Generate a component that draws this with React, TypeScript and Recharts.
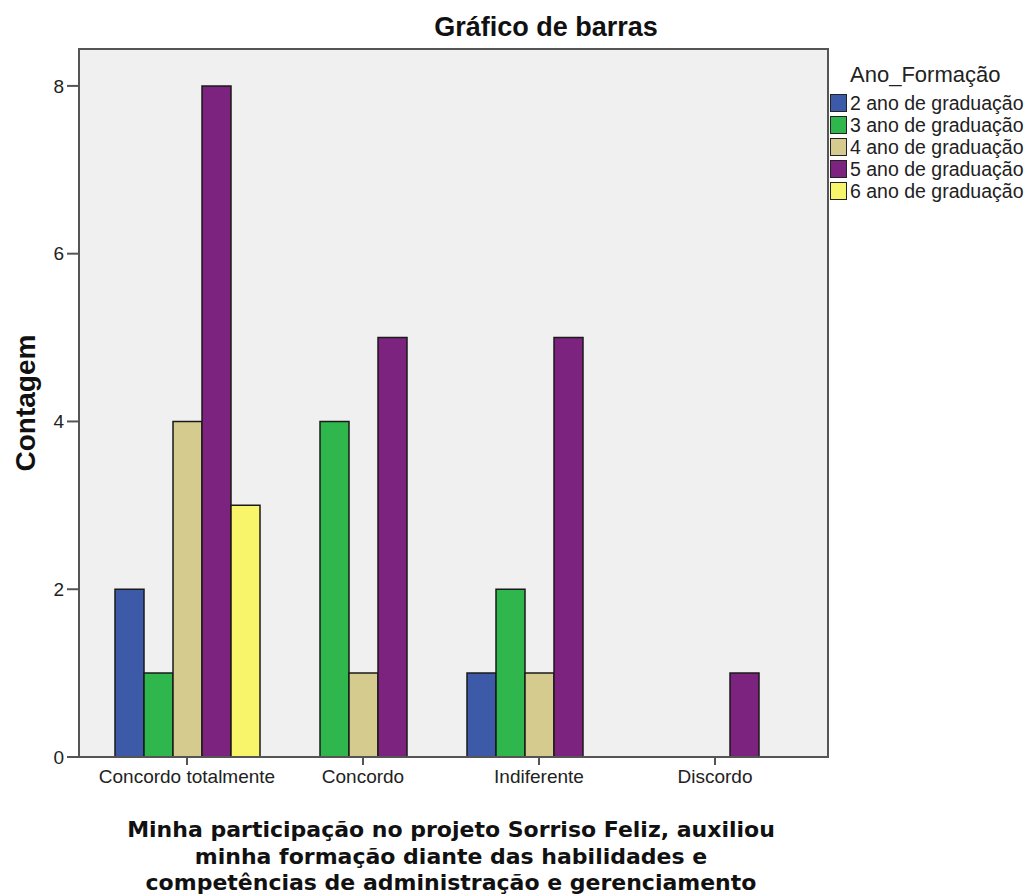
import { BarChart, Bar, XAxis, YAxis } from 'recharts'

if (typeof document !== 'undefined') document.body.style.margin = '0'

const categories = ['Concordo totalmente', 'Concordo', 'Indiferente', 'Discordo']
const ano2 = [2, 0, 1, 0]
const ano3 = [1, 4, 2, 0]
const ano4 = [4, 1, 1, 0]
const ano5 = [8, 5, 5, 1]
const ano6 = [3, 0, 0, 0]
const yTicks = [0, 2, 4, 6, 8]

const series = [
  { key: 'a2', name: '2 ano de graduação', color: '#3d5aa9', values: ano2 },
  { key: 'a3', name: '3 ano de graduação', color: '#2fb64c', values: ano3 },
  { key: 'a4', name: '4 ano de graduação', color: '#d5cb8e', values: ano4 },
  { key: 'a5', name: '5 ano de graduação', color: '#7c2380', values: ano5 },
  { key: 'a6', name: '6 ano de graduação', color: '#f8f56a', values: ano6 },
]

const data = categories.map((c, i) => {
  const row: Record<string, string | number> = { cat: c }
  series.forEach(s => { row[s.key] = s.values[i] })
  return row
})

const font = '"Liberation Sans", Arial, sans-serif'
const axisColor = '#555'

function LegendBox() {
  return (
    <div style={{ position: 'absolute', left: 830, top: 60, fontFamily: font, color: '#222' }}>
      <div style={{ fontSize: 22, marginLeft: 20, height: 32, lineHeight: '30px' }}>Ano_Formação</div>
      {series.map(s => (
        <div key={s.key} style={{ display: 'flex', alignItems: 'center', height: 22, fontSize: 19.5, whiteSpace: 'nowrap' }}>
          <span style={{ width: 15, height: 16, background: s.color, border: '1px solid #222', marginRight: 3, display: 'inline-block', flexShrink: 0 }} />
          {s.name}
        </div>
      ))}
    </div>
  )
}

export default function App() {
  return (
    <div style={{ position: 'relative', width: 1031, height: 896, background: '#fff', overflow: 'hidden' }}>
      <div style={{ position: 'absolute', left: 78, top: 48, width: 751, height: 710, boxSizing: 'border-box', background: '#f0f0f0', border: `2px solid ${axisColor}` }} />
      <div style={{ position: 'absolute', left: 0, width: 1092, top: 12, textAlign: 'center', fontFamily: font, fontWeight: 'bold', fontSize: 27, color: '#111' }}>
        Gráfico de barras
      </div>
      <div style={{ position: 'absolute', left: 26, top: 403, transform: 'translate(-50%, -50%) rotate(-90deg)', fontFamily: font, fontWeight: 'bold', fontSize: 28, color: '#111', whiteSpace: 'nowrap' }}>
        Contagem
      </div>
      <div style={{ position: 'absolute', left: 0, width: 902, top: 817, textAlign: 'center', fontFamily: '"DejaVu Sans", sans-serif', fontWeight: 'bold', fontSize: 22, lineHeight: '26.5px', color: '#111' }}>
        Minha participação no projeto Sorriso Feliz, auxiliou<br />
        minha formação diante das habilidades e<br />
        competências de administração e gerenciamento
      </div>
      <LegendBox />
      <BarChart
        width={1031}
        height={896}
        data={data}
        margin={{ top: 49, right: 203, bottom: 109, left: 0 }}
        barCategoryGap={16}
        barGap={0}
        style={{ position: 'absolute', left: 0, top: 0 }}
      >
        <XAxis
          dataKey="cat"
          padding={{ left: 20, right: 25 }}
          tick={{ fill: '#222', fontSize: 19, fontFamily: font }}
          tickSize={8}
          tickMargin={5}
          stroke={axisColor}
          strokeWidth={2}
          height={30}
        />
        <YAxis
          domain={[0, 8.44]}
          ticks={yTicks}
          allowDataOverflow
          width={79}
          tick={{ fill: '#222', fontSize: 19, fontFamily: font }}
          tickSize={12}
          tickMargin={3}
          stroke={axisColor}
          strokeWidth={2}
        />
        {series.map(s => (
          <Bar key={s.key} dataKey={s.key} name={s.name} fill={s.color} stroke="#1a1a1a" strokeWidth={1.5} isAnimationActive={false} />
        ))}
      </BarChart>
    </div>
  )
}
